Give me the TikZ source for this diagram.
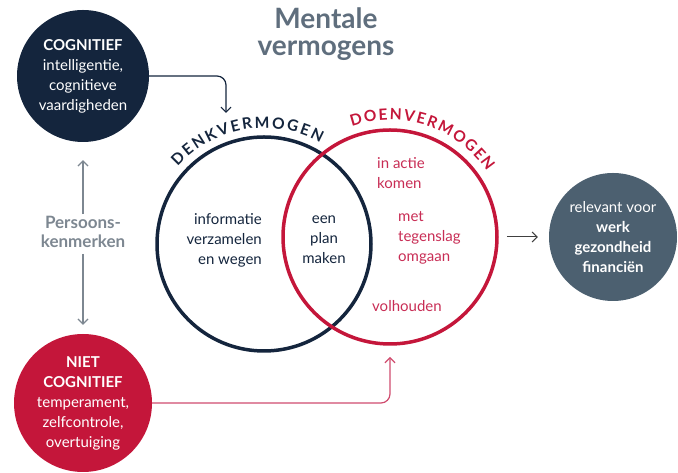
\documentclass[tikz,border=0pt]{standalone}
\usepackage{fontspec}
\setmainfont{Lato}
\usetikzlibrary{arrows.meta,decorations.text}

\definecolor{navy}{RGB}{20,37,61}
\definecolor{crimson}{RGB}{196,22,58}
\definecolor{roze}{RGB}{200,45,85}
\definecolor{leisteen}{RGB}{76,96,112}
\definecolor{titelgrijs}{RGB}{95,110,125}
\definecolor{lichtgrijs}{RGB}{125,135,145}

\newcommand\boogletter[1]{\fontsize{15.5}{15.5}\selectfont\bfseries\color{#1}}

\begin{document}
\begin{tikzpicture}[x=1pt,y=1pt,
  bol/.style={circle, inner sep=0pt, minimum size=#1, text=white, align=center,
    font=\fontsize{15}{20}\selectfont},
  ring/.style={circle, draw=#1, line width=3.5pt, minimum size=214pt, inner sep=0pt},
  tekst/.style={align=#1, font=\fontsize{15}{20}\selectfont, inner sep=0pt},
  pijl/.style={-{Straight Barb[length=5pt,width=10pt]}, line width=1.2pt}]
\useasboundingbox (0,0) rectangle (678,473); % page = 678x473

% title
\node[font=\bfseries\fontsize{28}{27}\selectfont, text=titelgrijs, align=center] (titel) at (326,439) {Mentale\\vermogens};

% the three filled circles
\node[bol=132pt, fill=navy] (cog) at (83,397) {\textbf{COGNITIEF}\\intelligentie,\\cognitieve\\vaardigheden};
\node[bol=138pt, fill=crimson] (niet) at (83,70) {\textbf{NIET}\\\textbf{COGNITIEF}\\temperament,\\zelfcontrole,\\overtuiging};
\node[bol=128pt, fill=leisteen] (res) at (613,236) {relevant voor\\\textbf{werk}\\\textbf{gezondheid}\\\textbf{financiën}};

% venn
\node[ring=navy] (denk) at (264,229) {};
\node[ring=crimson] (doen) at (390,236) {};

\path[decorate, decoration={text along path, text align={fit to path},
  text={|\boogletter{navy}|DENKVERMOGEN}}] (denk.center) ++(138:116) arc[start angle=138, end angle=61, radius=116];
\path[decorate, decoration={text along path, text align={fit to path},
  text={|\boogletter{crimson}|DOENVERMOGEN}}] (doen.center) ++(109:117) arc[start angle=109, end angle=34, radius=117];

\node[tekst=right, anchor=east, text=navy] (info) at (262,233) {informatie\\verzamelen\\en wegen};
\node[tekst=center, text=navy] (plan) at (324,233) {een\\plan\\maken};
\node[tekst=left, anchor=west, text=roze] (actie) at (377,300) {in actie\\komen};
\node[tekst=left, anchor=west, text=roze] (tegen) at (398,235) {met\\tegenslag\\omgaan};
\node[tekst=left, anchor=west, text=roze] (vol) at (372,167) {volhouden};

% persoonskenmerken
\node[font=\bfseries\fontsize{17}{19}\selectfont, text=lichtgrijs, align=center, inner sep=0pt] (pers) at (83,241) {Persoons-\\kenmerken};

% arrows
\coordinate (denktip) at (226,360);
\coordinate (doentip) at (390,116);
\draw[pijl, navy, rounded corners=9pt] (cog.east) -| (denktip);
\draw[pijl, roze!85, rounded corners=9pt] (niet.east) -| (doentip);
\draw[pijl, lichtgrijs, shorten <=2pt, shorten >=18pt] (pers.north) -- (cog.south);
\draw[pijl, lichtgrijs, shorten <=6pt, shorten >=9pt] (pers.south) -- (niet.north);
\draw[pijl, black!75, line width=1pt, shorten <=8pt, shorten >=11pt] (doen.east) -- (res.west);
\end{tikzpicture}
\end{document}
